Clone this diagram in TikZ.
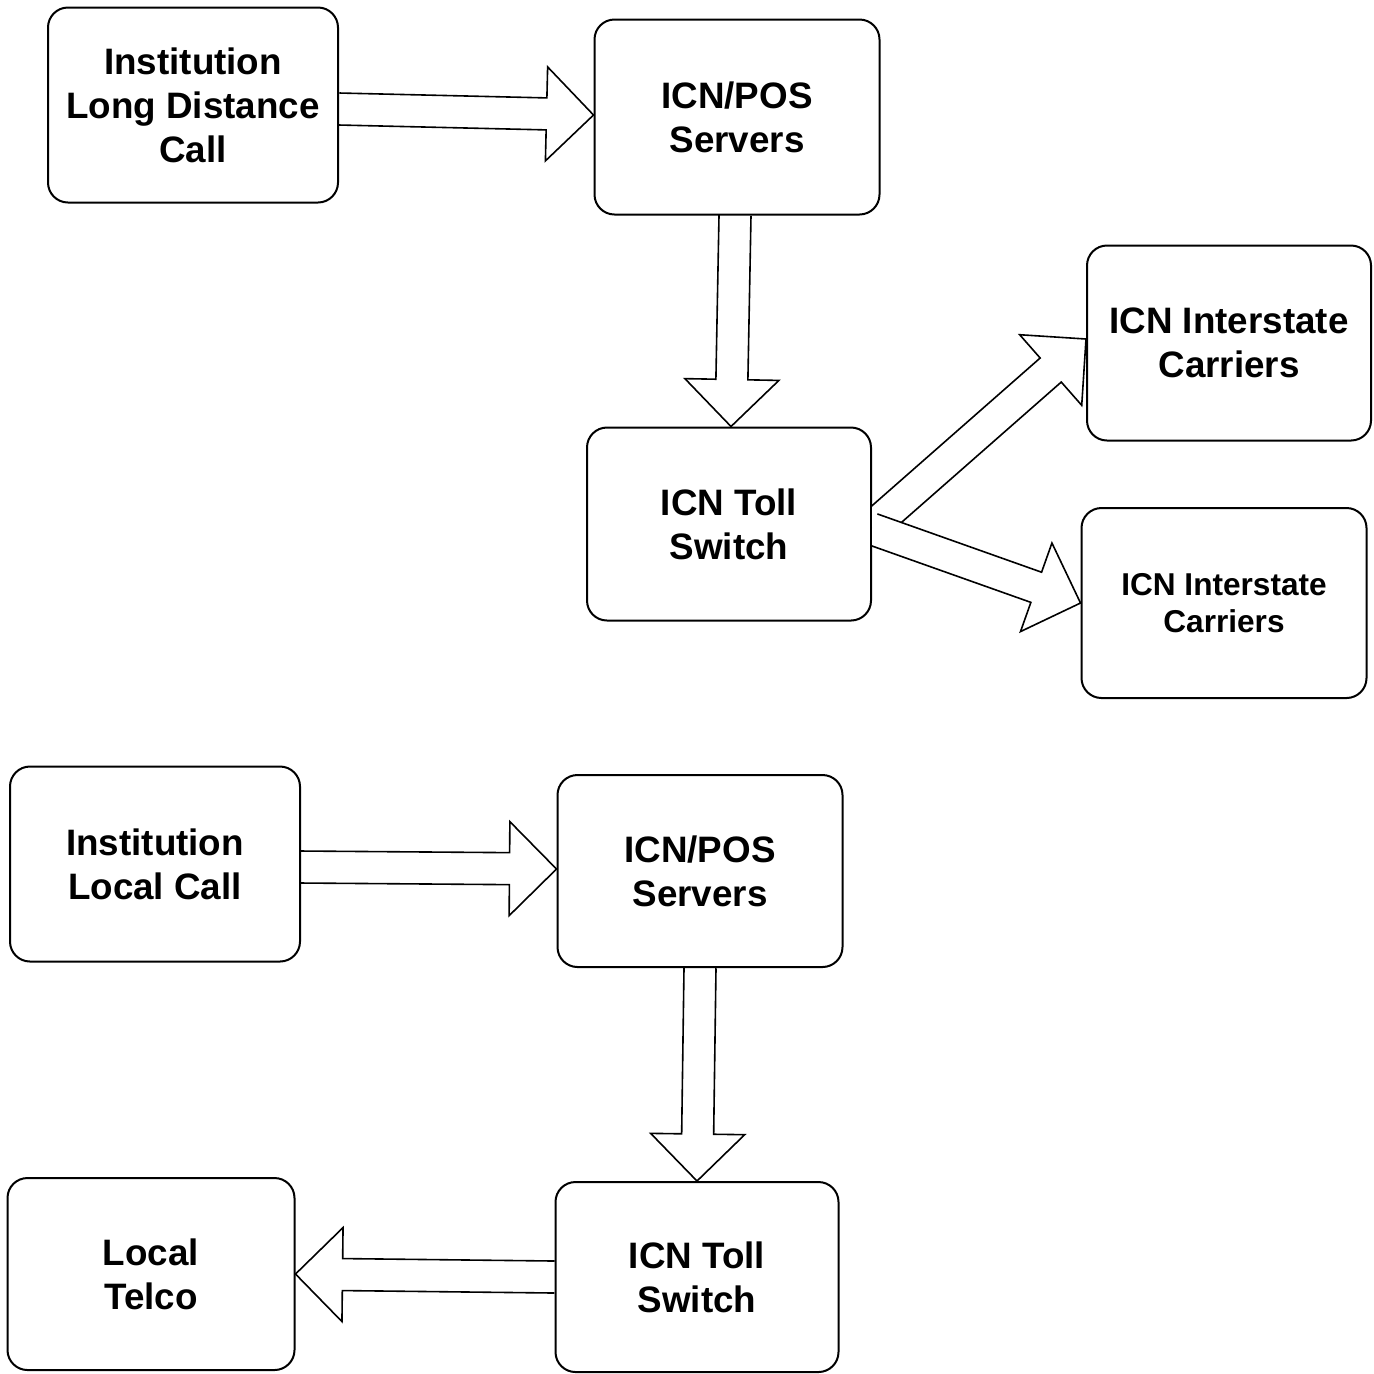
\documentclass[tikz,border=0pt]{standalone}
\usepackage{fontspec}
\setmainfont{Liberation Sans}
\usetikzlibrary{calc}
\tikzset{
  box/.style={draw, line width=1pt, rounded corners=10pt, align=center,
    minimum width=143pt, minimum height=96.5pt, inner sep=0pt,
    font=\fontsize{18.4}{22}\selectfont\bfseries},
  smallbox/.style={box, font=\fontsize{15.8}{18.5}\selectfont\bfseries},
  arrowline/.style={draw, line width=0.8pt, line join=miter}
}
\newcommand\blockarrow[3][]{%
  \coordinate (S) at #2;
  \coordinate (E) at #3;
  \coordinate (H) at ($(E)!23.5pt!(S)$);
  \path[arrowline, #1] ($(S)!8pt!90:(E)$) -- ($(H)!8pt!-90:(S)$) -- ($(H)!23.5pt!-90:(S)$)
    -- (E) -- ($(H)!23.5pt!90:(S)$) -- ($(H)!8pt!90:(S)$) -- ($(S)!8pt!-90:(E)$);
}
\begin{document}
\begin{tikzpicture}[x=0.5pt, y=-0.5pt]
\useasboundingbox (0,0) rectangle (1374,1373);
% top group
\node[box, minimum width=145pt, minimum height=97.5pt] (ild) at (193,105) {Institution\\Long Distance\\Call};
\node[box, minimum width=142.5pt, minimum height=97.5pt] (pos1) at (737,117) {ICN/POS\\Servers};
\node[box, minimum width=142pt] (tsw1) at (729,524) {ICN Toll\\Switch};
\node[box, minimum width=142pt, minimum height=97.5pt] (ic1) at (1229,343) {ICN Interstate\\Carriers};
\node[smallbox, minimum width=142.5pt, minimum height=95pt] (ic2) at (1224,603) {ICN Interstate\\Carriers};
% bottom group
\node[box, minimum width=145pt, minimum height=97.5pt] (ilc) at (155,864) {Institution\\Local Call};
\node[box, minimum width=142.5pt, minimum height=96pt] (pos2) at (700,871) {ICN/POS\\Servers};
\node[box, minimum width=141.5pt, minimum height=95pt] (tsw2) at (697,1277) {ICN Toll\\Switch};
\node[box, minimum width=143.5pt, minimum height=96pt] (tel) at (151,1274) {Local\\Telco};
% arrows
\blockarrow{($(ild.east)+(0,4)$)}{($(pos1.west)+(0,-2)$)}
\blockarrow{($(pos1.south)+(-2,0)$)}{($(tsw1.north)+(2,0)$)}
\begin{scope}
  \clip (tsw1.east |- ic1.north) rectangle (ic2.south east);
  \blockarrow[fill=white]{($(tsw1.east)+(0,3)$)}{($(ic1.west)+(0,-4)$)}
  \blockarrow[fill=white]{($(tsw1.east)+(0,5)$)}{(ic2.west)}
\end{scope}
\blockarrow{($(ilc.east)+(0,3)$)}{($(pos2.west)+(0,-2)$)}
\blockarrow{(pos2.south)}{(tsw2.north)}
\blockarrow{(tsw2.west)}{(tel.east)}
\end{tikzpicture}
\end{document}
